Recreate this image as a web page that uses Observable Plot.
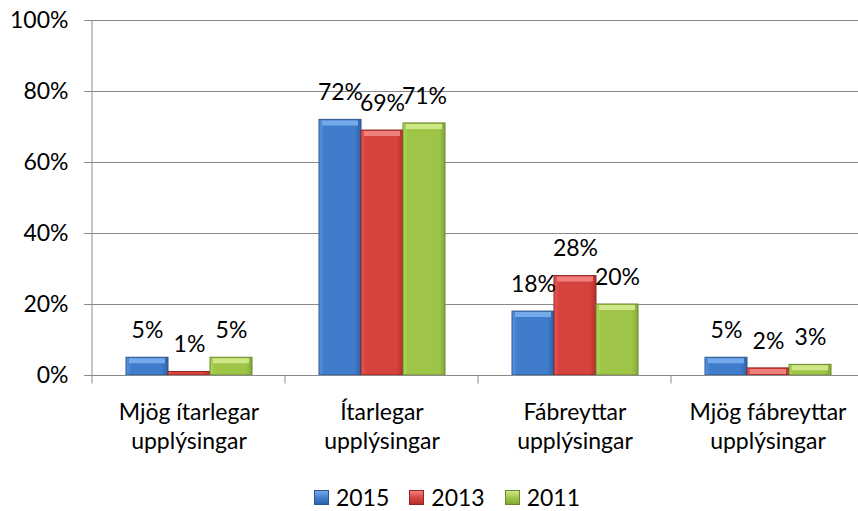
<!DOCTYPE html>
<html>
<head>
<meta charset="utf-8">
<script src="https://cdn.jsdelivr.net/npm/d3@7"></script>
<script src="https://cdn.jsdelivr.net/npm/@observablehq/plot@0.6"></script>
<style>
  html, body { margin: 0; padding: 0; background: #fff; overflow: hidden; }
  #chart { width: 858px; }
  .legend { display: flex; justify-content: center; align-items: center; margin-left: 36px; margin-top: 14px; height: 26px;
            font-family: Lato, sans-serif; font-size: 23px; color: #000; }
  .legend .item { display: flex; align-items: center; margin: 0 10px; }
  .legend .sw { width: 15px; height: 15px; margin-right: 7px; box-sizing: border-box; }
</style>
</head>
<body>
<div id="chart"></div>
<script>
// ---- data ----
const categories = ["Mjög ítarlegar upplýsingar", "Ítarlegar upplýsingar", "Fábreyttar upplýsingar", "Mjög fábreyttar upplýsingar"];
const years = ["2015", "2013", "2011"];
const values2015 = [5, 72, 18, 5];
const values2013 = [1, 69, 28, 2];
const values2011 = [5, 71, 20, 3];
const yTicks = [0, 20, 40, 60, 80, 100];

// ---- styles ----
const palette = {
  "2015": {left: "#5a95df", mid: "#3f7ccc", right: "#2f62a6", stroke: "#2b568f", hi: "#74a9ea"},
  "2013": {left: "#e65a56", mid: "#d6423e", right: "#b52f2c", stroke: "#8e2522", hi: "#f0807c"},
  "2011": {left: "#b0d55c", mid: "#9fc548", right: "#84a838", stroke: "#6b882b", hi: "#cfe887"}
};
const gray = "#8a8a8a";
const fontSize = 23;

const seriesValues = {"2015": values2015, "2013": values2013, "2011": values2011};
const rows = [];
categories.forEach((c, i) => years.forEach(y => rows.push({category: c, year: y, value: seriesValues[y][i]})));

const splitLabel = s => { const k = s.lastIndexOf(" "); return s.slice(0, k) + "\n" + s.slice(k + 1); };

const chart = Plot.plot({
  width: 858,
  height: 470,
  marginLeft: 92,
  marginRight: -6,
  marginTop: 20,
  marginBottom: 95,
  style: {fontFamily: "Lato, sans-serif", fontSize: fontSize + "px", color: "#000", background: "#fff"},
  fx: {domain: categories, padding: 0, label: null},
  x: {domain: years, paddingInner: 0, paddingOuter: 0.745, axis: null},
  y: {domain: [0, 100], label: null},
  color: {type: "identity"},
  marks: [
    Plot.gridY({ticks: yTicks, stroke: gray, strokeOpacity: 1}),
    Plot.axisY({ticks: yTicks, tickFormat: d => d + "%", tickSize: 8, tickPadding: 16, stroke: gray, strokeOpacity: 1, fontSize, label: null}),
    Plot.ruleY([0], {facetAnchor: "left", stroke: "none",
      render(index, scales, values, dimensions, context, next) {
        const g = next(index, scales, values, dimensions, context);
        const x0 = dimensions.marginLeft;
        d3.select(g).append("line").attr("x1", x0).attr("x2", x0)
          .attr("y1", scales.y(100)).attr("y2", scales.y(0)).attr("stroke", gray);
        return g;
      }}),
    Plot.barY(rows, {fx: "category", x: "year", y: "value",
      fill: d => `url(#grad${d.year})`, stroke: d => palette[d.year].stroke, strokeWidth: 1}),
    Plot.tickY(rows.filter(d => d.value >= 2), {fx: "category", x: "year", y: "value",
      stroke: d => palette[d.year].hi, strokeWidth: 5, dy: 3, insetLeft: 3, insetRight: 3}),
    Plot.ruleY([0], {stroke: gray,
      render(index, scales, values, dimensions, context, next) {
        const g = next(index, scales, values, dimensions, context);
        const x0 = dimensions.marginLeft, y0 = scales.y(0);
        d3.select(g).append("line").attr("x1", x0).attr("x2", x0)
          .attr("y1", y0).attr("y2", y0 + 8).attr("stroke", gray);
        return g;
      }}),
    Plot.text(rows, {fx: "category", x: "year", y: "value", text: d => d.value + "%", dy: -27, fontSize, fill: "#000"}),
    Plot.axisFx({anchor: "bottom", tickSize: 0, tickPadding: 24, tickFormat: splitLabel, lineHeight: 1.25, fontSize, label: null})
  ]
});

// gradient definitions for bar fills
const defs = d3.select(chart).insert("defs", ":first-child");
years.forEach(y => {
  const p = palette[y];
  const lg = defs.append("linearGradient").attr("id", "grad" + y).attr("x1", 0).attr("x2", 1).attr("y1", 0).attr("y2", 0);
  lg.append("stop").attr("offset", "0").attr("stop-color", p.left);
  lg.append("stop").attr("offset", "0.12").attr("stop-color", p.mid);
  lg.append("stop").attr("offset", "0.85").attr("stop-color", p.mid);
  lg.append("stop").attr("offset", "1").attr("stop-color", p.right);
});

document.getElementById("chart").appendChild(chart);

// legend
const legend = d3.select("#chart").append("div").attr("class", "legend");
years.forEach(y => {
  const p = palette[y];
  const it = legend.append("div").attr("class", "item");
  it.append("div").attr("class", "sw")
    .style("background", `linear-gradient(to bottom, ${p.hi}, ${p.mid} 55%, ${p.right})`)
    .style("border", `1px solid ${p.stroke}`);
  it.append("span").text(y);
});
</script>
</body>
</html>
